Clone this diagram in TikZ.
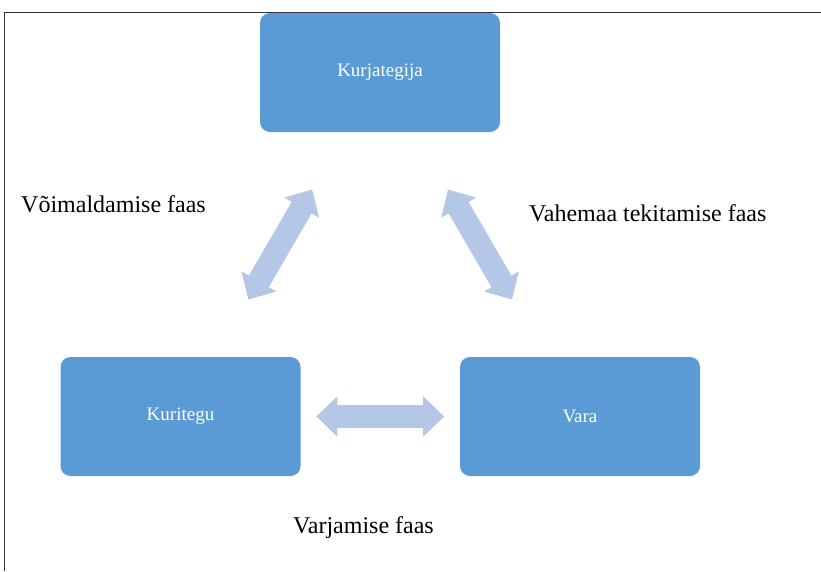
\documentclass[tikz,border=0pt]{standalone}
\usepackage{fontspec}
\setmainfont{Liberation Serif}
\usetikzlibrary{calc,arrows.meta}
\definecolor{boxblue}{HTML}{5B9BD5}
\definecolor{arrowblue}{HTML}{B4C7E7}
\begin{document}
\begin{tikzpicture}[x=1pt,y=-1pt, line join=round,
	box/.style={fill=boxblue,text=white,rounded corners=10pt,minimum width=240pt,minimum height=119pt,inner sep=0pt,font=\fontsize{19}{23}\selectfont},
	bigarrow/.style={arrowblue,line width=23pt,{Triangle[length=21pt,width=39pt]}-{Triangle[length=21pt,width=39pt]}},
	phase/.style={anchor=base west,inner sep=0pt,font=\fontsize{24}{28}\selectfont}]
		\useasboundingbox (0,0) rectangle (821,571);
		\draw[line width=1pt,black!80] (4.5,571)--(4.5,12.5)--(821,12.5);
		\node[box] (kurj) at (380,72.5) {Kurjategija};
		\node[box] (kuri) at (180.5,416.5) {Kuritegu};
		\node[box] (vara) at (580,416.5) {Vara};
		\draw[bigarrow] ($(kuri)!0.34!(kurj)$)--($(kuri)!0.66!(kurj)$);
		\draw[bigarrow] ($(kurj)!0.34!(vara)$)--($(kurj)!0.66!(vara)$);
		\draw[bigarrow] ($(kuri)!0.34!(vara)$)--($(kuri)!0.66!(vara)$);
		\node[phase] (voim) at (21,212) {Võimaldamise faas};
		\node[phase] (vahe) at (529,221) {Vahemaa tekitamise faas};
		\node[phase] (varj) at (293,533) {Varjamise faas};
\end{tikzpicture}
\end{document}
